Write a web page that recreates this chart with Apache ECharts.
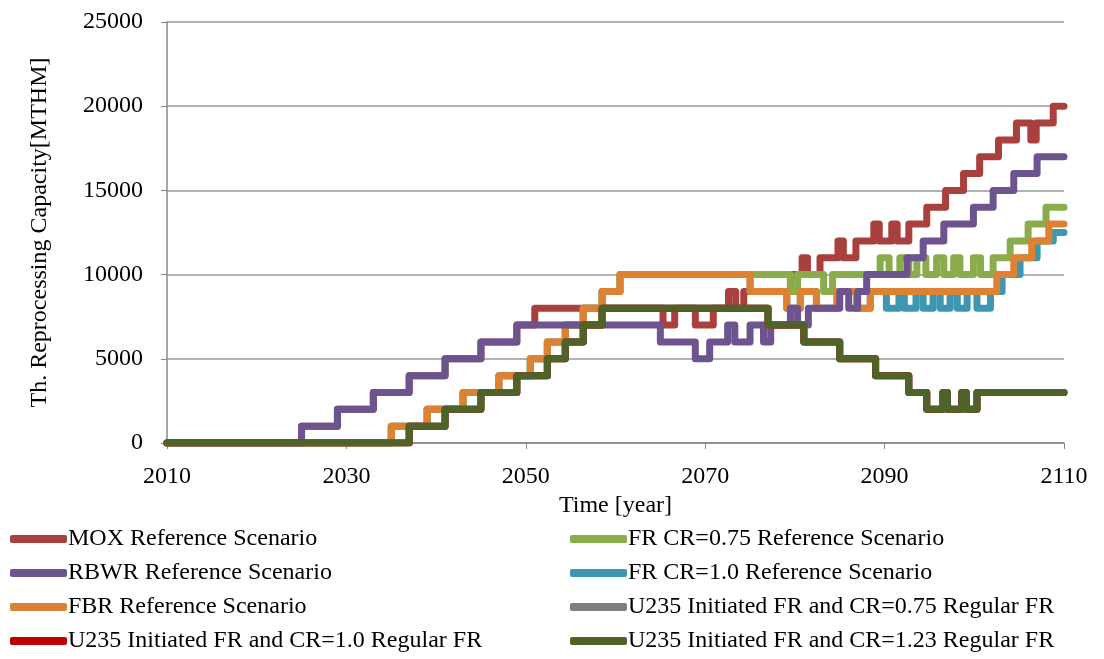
<!DOCTYPE html>
<html><head><meta charset="utf-8">
<script src="https://cdn.jsdelivr.net/npm/echarts@6/dist/echarts.min.js"></script>
<style>html,body{margin:0;padding:0;background:#fff}#c{width:1104px;height:659px}</style>
</head><body><div id="c"></div>
<script>
const xTicks = [2010, 2030, 2050, 2070, 2090, 2110];
const names = ["MOX Reference Scenario","RBWR Reference Scenario","FBR Reference Scenario","U235 Initiated FR and CR=1.0 Regular FR","FR CR=0.75 Reference Scenario","FR CR=1.0 Reference Scenario","U235 Initiated FR and CR=0.75 Regular FR","U235 Initiated FR and CR=1.23 Regular FR"];
const colors = ["#A9403D","#6E548F","#DD8233","#C00000","#8BAC4B","#3E97B1","#7F7F7F","#4F6228"];

const mox = [[2010,0],[2025,1000],[2029,2000],[2033,3000],[2037,4000],[2041,5000],[2045,6000],[2049,7000],[2051,8000],[2065.3,7000],[2066.6,8000],[2068.9,7000],[2070.9,8000],[2072.6,9000],[2073.4,8000],[2074.3,9000],[2079.5,10000],[2080.8,11000],[2081.4,10000],[2082.8,11000],[2084.8,12000],[2085.4,11000],[2086.8,12000],[2088.8,13000],[2089.4,12000],[2090.8,13000],[2091.4,12000],[2092.7,13000],[2094.7,14000],[2096.8,15000],[2098.8,16000],[2100.6,17000],[2102.7,18000],[2104.7,19000],[2106.3,18000],[2106.9,19000],[2108.8,20000],[2110,20000]];
const rbwr = [[2010,0],[2025,1000],[2029,2000],[2033,3000],[2037,4000],[2041,5000],[2045,6000],[2049,7000],[2065,6000],[2068.9,5000],[2070.5,6000],[2072.5,7000],[2073.3,6000],[2075,7000],[2076.5,6000],[2077.3,7000],[2079.5,8000],[2080.3,7000],[2081.5,8000],[2085,9000],[2086,8000],[2087,9000],[2088,10000],[2092.5,11000],[2094.3,12000],[2096.6,13000],[2099.9,14000],[2102.1,15000],[2104.4,16000],[2107,17000],[2110,17000]];
const fbr = [[2010,0],[2035,1000],[2039,2000],[2043,3000],[2047,4000],[2050.5,5000],[2052.4,6000],[2054.4,7000],[2056.4,8000],[2058.5,9000],[2060.5,10000],[2075,9000],[2079.1,8000],[2080.6,9000],[2082.4,8000],[2084.7,9000],[2086.9,8000],[2088.4,9000],[2102.5,10000],[2104.4,11000],[2106.4,12000],[2108.3,13000],[2110,13000]];
const u235cr10 = [[2010,0],[2037,1000],[2041,2000],[2045,3000],[2049,4000],[2052.4,5000],[2054.4,6000],[2056.4,7000],[2058.5,8000],[2077,7000],[2081,6000],[2085,5000],[2089,4000],[2092.7,3000],[2094.7,2000],[2096.5,3000],[2097,2000],[2098.6,3000],[2099.1,2000],[2100.3,3000],[2110,3000]];
const fr075 = [[2010,0],[2035,1000],[2039,2000],[2043,3000],[2047,4000],[2050.5,5000],[2052.4,6000],[2054.4,7000],[2056.4,8000],[2058.5,9000],[2060.5,10000],[2079.5,9000],[2080.3,10000],[2083.2,9000],[2084.2,10000],[2089.5,11000],[2090.5,10000],[2091.7,11000],[2092.7,10000],[2093.6,11000],[2094.6,10000],[2095.8,11000],[2096.6,10000],[2097.7,11000],[2098.4,10000],[2099.9,11000],[2100.7,10000],[2102.1,11000],[2104,12000],[2106,13000],[2108,14000],[2110,14000]];
const fr10 = [[2010,0],[2035,1000],[2039,2000],[2043,3000],[2047,4000],[2050.5,5000],[2052.4,6000],[2054.4,7000],[2056.4,8000],[2058.5,9000],[2060.5,10000],[2075,9000],[2079.1,8000],[2080.6,9000],[2082.4,8000],[2084.7,9000],[2086.9,8000],[2088.4,9000],[2090.2,8000],[2091.6,9000],[2092.2,8000],[2093.5,9000],[2094.3,8000],[2095.4,9000],[2096.2,8000],[2097.3,9000],[2098.1,8000],[2099.2,9000],[2100.3,8000],[2101.8,9000],[2103.1,10000],[2105.1,11000],[2107,12000],[2108.8,12500],[2110,12500]];
const u235cr075 = u235cr10;
const u235cr123 = u235cr10;

const seriesData = [mox, rbwr, fbr, u235cr10, fr075, fr10, u235cr075, u235cr123];
const drawOrder = [0, 5, 4, 2, 1, 6, 3, 7];

const font = "Liberation Serif";
const chart = echarts.init(document.getElementById('c'));
chart.setOption({
  animation: false,
  grid: {left: 167, right: 40, top: 22, bottom: 216},
  xAxis: {type: 'value', min: 2010, max: 2110, interval: 20,
    name: 'Time [year]', nameLocation: 'middle', nameGap: 44,
    nameTextStyle: {fontFamily: font, fontSize: 24, color: '#000'},
    axisLine: {lineStyle: {color: '#888', width: 1.5}},
    axisTick: {show: true, length: 6, lineStyle: {color: '#888'}},
    axisLabel: {fontFamily: font, fontSize: 24, color: '#000', margin: 22, formatter: v => String(v)},
    splitLine: {show: false}},
  yAxis: {type: 'value', min: 0, max: 25000, interval: 5000,
    name: 'Th. Reprocessing Capacity[MTHM]', nameLocation: 'middle', nameGap: 115, nameRotate: 90,
    nameTextStyle: {fontFamily: font, fontSize: 24, color: '#000'},
    axisLine: {show: true, lineStyle: {color: '#888', width: 1.5}},
    axisTick: {show: true, length: 6, lineStyle: {color: '#888'}},
    axisLabel: {fontFamily: font, fontSize: 24, color: '#000', margin: 24, formatter: v => String(v)},
    splitLine: {lineStyle: {color: '#999', width: 1.5}}},
  legend: [
    {data: names.slice(0,4), orient: 'vertical', left: 5, top: 522, itemGap: 10, itemWidth: 57, itemHeight: 8, icon: 'roundRect',
     textStyle: {fontFamily: font, fontSize: 24, color: '#000', padding: [0,0,0,-4]}},
    {data: names.slice(4), orient: 'vertical', left: 565, top: 522, itemGap: 10, itemWidth: 57, itemHeight: 8, icon: 'roundRect',
     textStyle: {fontFamily: font, fontSize: 24, color: '#000', padding: [0,0,0,-4]}}
  ],
  series: drawOrder.map(i => ({
    name: names[i], type: 'line', step: 'end', symbol: 'none',
    data: seriesData[i], color: colors[i],
    lineStyle: {width: 7, color: colors[i], join: 'round', cap: 'round'}
  }))
});
</script></body></html>
